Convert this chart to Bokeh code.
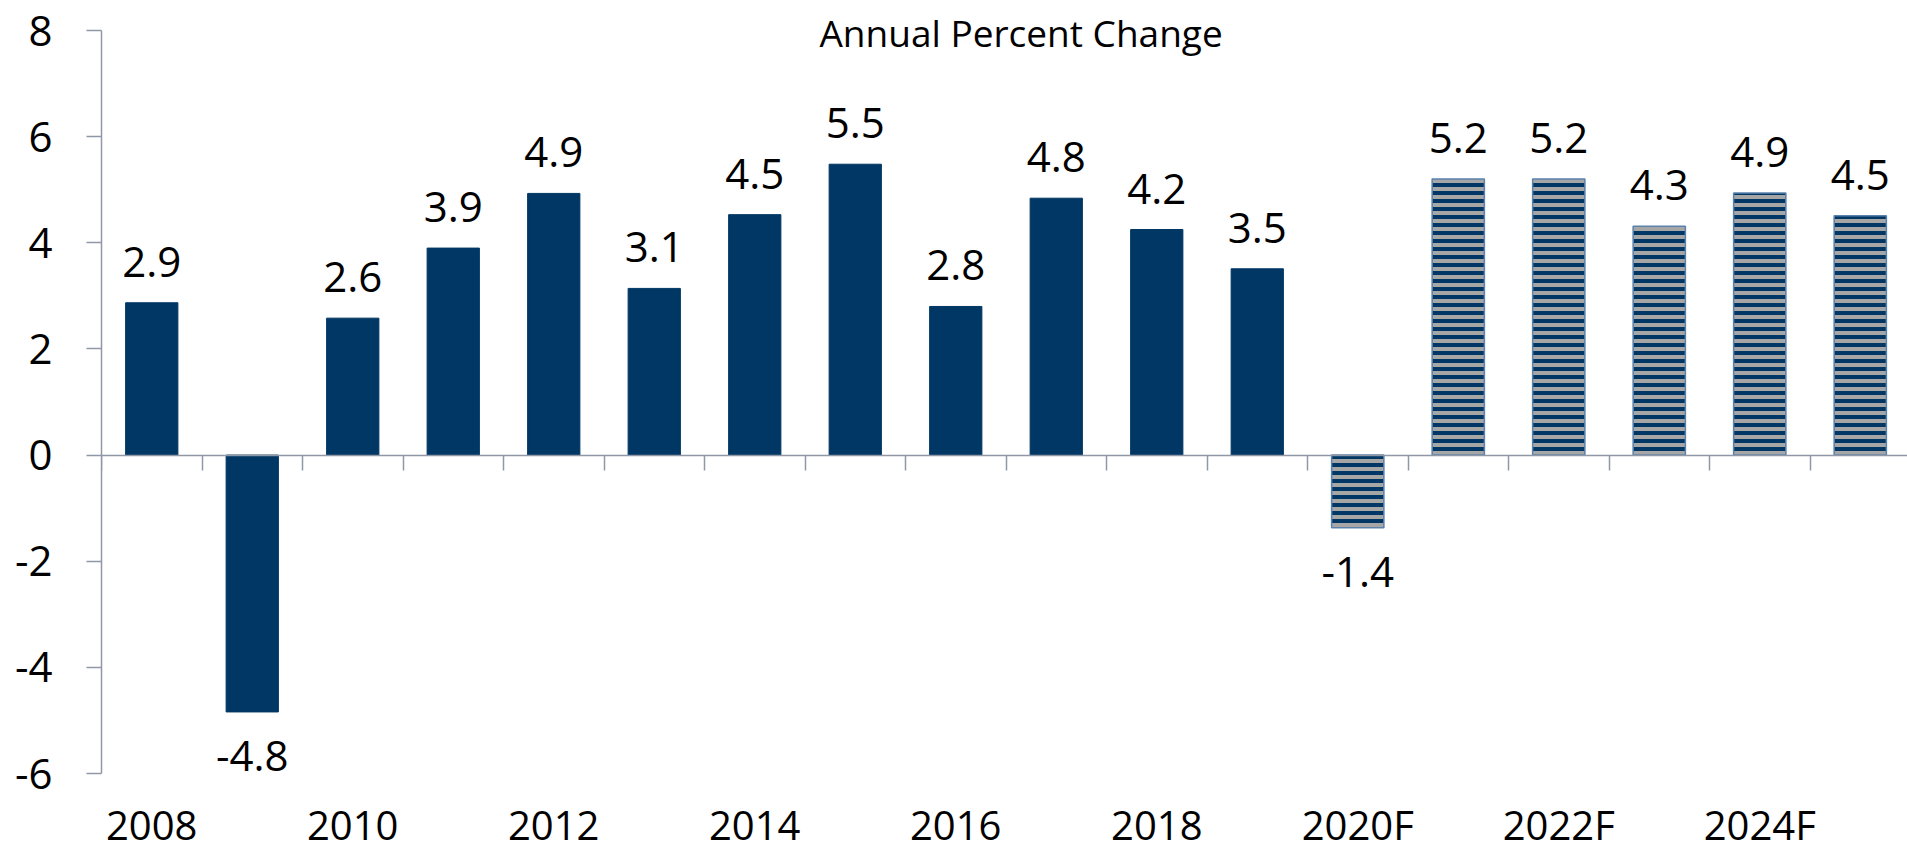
from bokeh.plotting import figure
from bokeh.models import Range1d, LinearAxis, FixedTicker, ColumnDataSource, Label
from bokeh.embed import file_html
from bokeh.resources import INLINE
from bokeh.core.properties import value

# ---- data ----
categories = ["2008", "2009", "2010", "2011", "2012", "2013", "2014", "2015", "2016",
              "2017", "2018", "2019", "2020F", "2021F", "2022F", "2023F", "2024F", "2025F"]
growth = [2.87, -4.84, 2.58, 3.90, 4.93, 3.14, 4.53, 5.48, 2.80,
          4.84, 4.25, 3.51, -1.37, 5.20, 5.20, 4.31, 4.94, 4.51]
value_labels = ["2.9", "-4.8", "2.6", "3.9", "4.9", "3.1", "4.5", "5.5", "2.8",
                "4.8", "4.2", "3.5", "-1.4", "5.2", "5.2", "4.3", "4.9", "4.5"]
is_forecast = [False] * 12 + [True] * 6
y_ticks = [-6, -4, -2, 0, 2, 4, 6, 8]
y_tick_labels = ["-6", "-4", "-2", "0", "2", "4", "6", "8"]
subtitle = "Annual Percent Change"

NAVY = "#003764"
STRIPE = "#a6a6a6"
AXIS = "#9098a8"
FONT = "Open Sans"

xs = [i + 0.5 for i in range(len(categories))]

# the y range extends beyond the axis (-6..8) to leave room for the texts around it
p = figure(width=1907, height=854, x_range=Range1d(0, 17.97), y_range=Range1d(-7.526, 8.565),
           output_backend="svg", toolbar_location=None,
           min_border_left=101, min_border_right=0, min_border_top=0, min_border_bottom=0,
           x_axis_location=None)
p.outline_line_color = None
p.xgrid.visible = False
p.ygrid.visible = False
p.background_fill_color = "white"
p.border_fill_color = "white"

hist = ColumnDataSource(dict(x=[x for x, f in zip(xs, is_forecast) if not f],
                             top=[v for v, f in zip(growth, is_forecast) if not f]))
fc = ColumnDataSource(dict(x=[x for x, f in zip(xs, is_forecast) if f],
                           top=[v for v, f in zip(growth, is_forecast) if f]))

p.vbar(x="x", top="top", bottom=0, width=0.52, source=hist,
       fill_color=NAVY, line_color=NAVY, line_width=1)
p.vbar(x="x", top="top", bottom=0, width=0.52, source=fc,
       fill_color=NAVY, line_color="#5a82ad", line_width=1.5,
       hatch_pattern="horizontal_line", hatch_color=STRIPE, hatch_scale=8, hatch_weight=4)

# data labels
lab = ColumnDataSource(dict(x=xs, y=growth, text=value_labels,
                            off=[-41 if v >= 0 else 44 for v in growth]))
p.text(x="x", y="y", text="text", y_offset="off", source=lab,
       text_align="center", text_baseline="alphabetic",
       text_font=value(FONT), text_font_size="42px", text_color="black")

# y axis
ya = p.yaxis[0]
ya.bounds = (-6, 8)
ya.ticker = FixedTicker(ticks=y_ticks)
ya.major_label_overrides = {t: s for t, s in zip(y_ticks, y_tick_labels)}
ya.axis_line_color = AXIS
ya.axis_line_width = 1.5
ya.major_tick_line_color = AXIS
ya.major_tick_line_width = 1.5
ya.major_tick_in = 0
ya.major_tick_out = 15
ya.minor_tick_line_color = None
ya.major_label_standoff = 34
ya.major_label_text_font = FONT
ya.major_label_text_font_size = "42px"
ya.major_label_text_color = "black"

# zero axis with category boundary ticks
bounds = list(range(len(categories) + 1))
za = LinearAxis(fixed_location=0, ticker=FixedTicker(ticks=bounds),
                major_label_overrides={b: "" for b in bounds})
za.axis_line_color = AXIS
za.axis_line_width = 1.5
za.major_tick_line_color = AXIS
za.major_tick_line_width = 1.5
za.major_tick_in = 0
za.major_tick_out = 15
za.minor_tick_line_color = None
p.add_layout(za, "below")

# category labels at bottom (every other)
lbl_ticks = xs[::2]
la = LinearAxis(fixed_location=-6, ticker=FixedTicker(ticks=lbl_ticks),
                major_label_overrides={t: c for t, c in zip(lbl_ticks, categories[::2])})
la.axis_line_color = None
la.major_tick_line_color = None
la.minor_tick_line_color = None
la.major_tick_in = 0
la.major_tick_out = 0
la.major_label_standoff = 23
la.major_label_text_font = FONT
la.major_label_text_font_size = "40px"
la.major_label_text_color = "black"
p.add_layout(la, "below")

p.add_layout(Label(x=9.15, y=7.962, text=subtitle, text_align="center",
                   text_baseline="alphabetic", text_font=FONT,
                   text_font_size="37px", text_color="black"))

open("out.html", "w").write(file_html(p, INLINE))
